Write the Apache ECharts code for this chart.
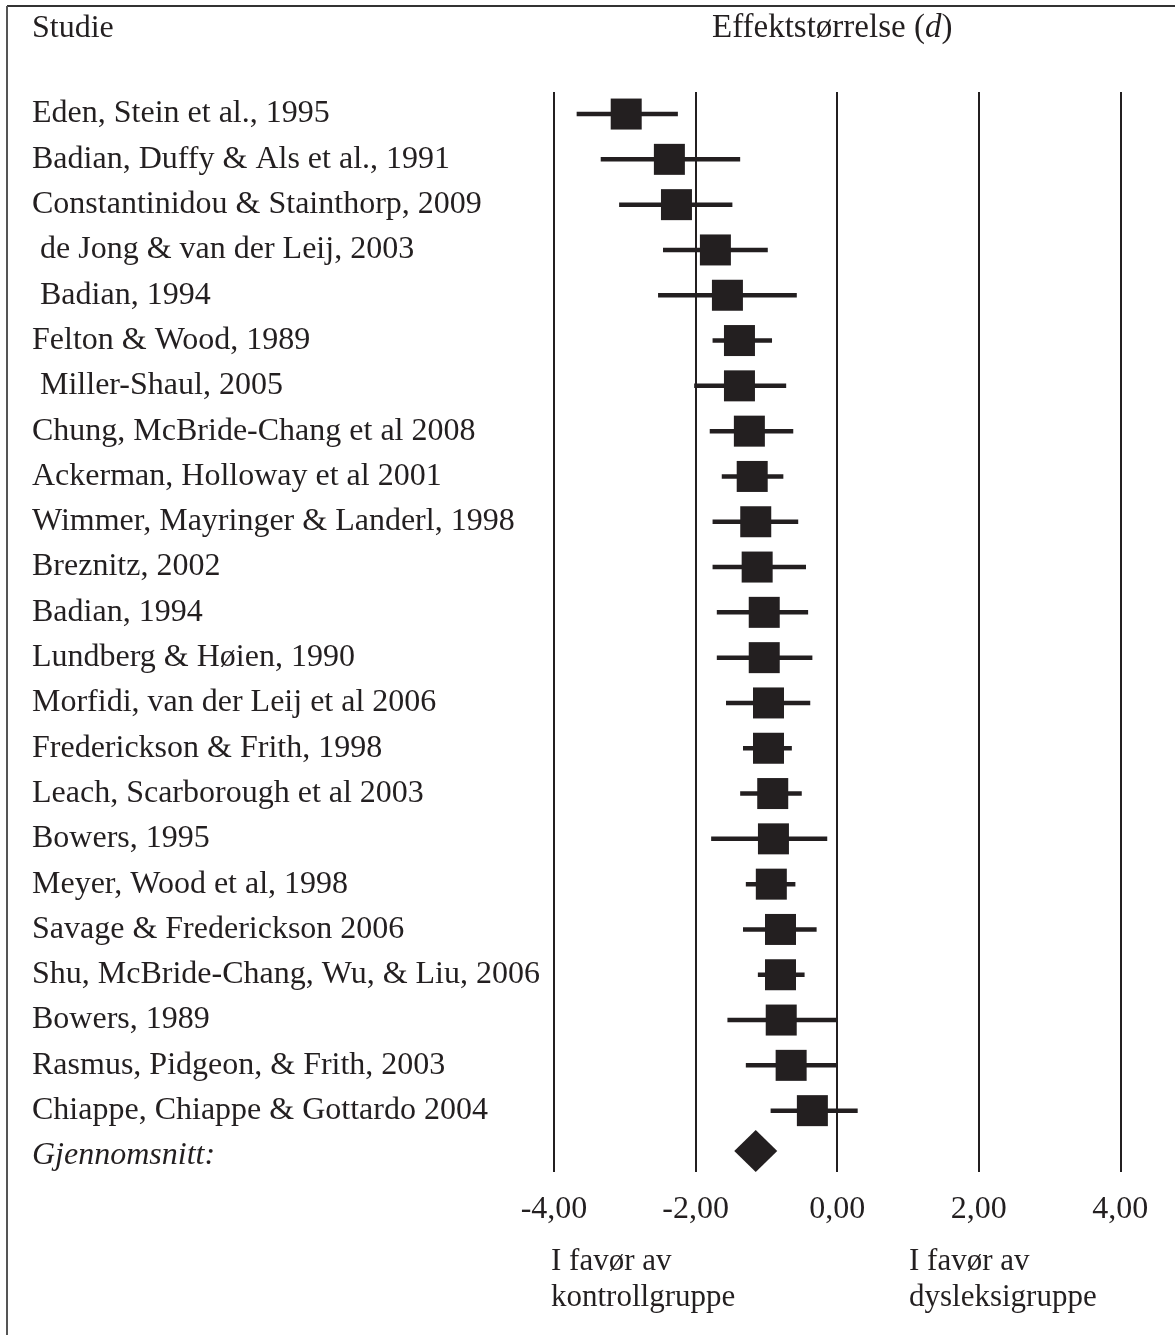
<!DOCTYPE html>
<html>
<head>
<meta charset="utf-8">
<script src="https://cdn.jsdelivr.net/npm/echarts@6/dist/echarts.min.js"></script>
<style>
html, body { margin: 0; padding: 0; background: #fff; }
#container { width: 1175px; height: 1335px; }
</style>
</head>
<body>
<div id="container"></div>
<script>
// studier, i rekkefølge ovenfra og ned
var studies = [
	'Eden, Stein et al., 1995',
	'Badian, Duffy & Als et al., 1991',
	'Constantinidou & Stainthorp, 2009',
	' de Jong & van der Leij, 2003',
	' Badian, 1994',
	'Felton & Wood, 1989',
	' Miller-Shaul, 2005',
	'Chung, McBride-Chang et al 2008',
	'Ackerman, Holloway et al 2001',
	'Wimmer, Mayringer & Landerl, 1998',
	'Breznitz, 2002',
	'Badian, 1994',
	'Lundberg & Høien, 1990',
	'Morfidi, van der Leij et al 2006',
	'Frederickson & Frith, 1998',
	'Leach, Scarborough et al 2003',
	'Bowers, 1995',
	'Meyer, Wood et al, 1998',
	'Savage & Frederickson 2006',
	'Shu, McBride-Chang, Wu, & Liu, 2006',
	'Bowers, 1989',
	'Rasmus, Pidgeon, & Frith, 2003',
	'Chiappe, Chiappe & Gottardo 2004'
];
var meanLabel = 'Gjennomsnitt:';

// effektstørrelse d, nedre og øvre grense
var effect = [-2.98, -2.37, -2.27, -1.72, -1.55, -1.38, -1.38, -1.24, -1.20, -1.15, -1.13, -1.03,
	-1.03, -0.97, -0.97, -0.91, -0.90, -0.93, -0.80, -0.80, -0.79, -0.65, -0.35];
var lower = [-3.68, -3.34, -3.08, -2.46, -2.53, -1.76, -2.02, -1.80, -1.63, -1.76, -1.76, -1.70,
	-1.70, -1.57, -1.33, -1.37, -1.78, -1.29, -1.33, -1.12, -1.55, -1.29, -0.94];
var upper = [-2.25, -1.37, -1.48, -0.98, -0.57, -0.92, -0.72, -0.62, -0.76, -0.55, -0.44, -0.41,
	-0.35, -0.38, -0.64, -0.50, -0.14, -0.59, -0.29, -0.46, -0.01, -0.01, 0.29];
var meanEffect = -1.15;

var xTicks = [-4, -2, 0, 2, 4];

var serif = '"Liberation Serif", "Times New Roman", serif';
var ink = '#231f20';

var dom = document.getElementById('container');
var myChart = echarts.init(dom);

var categories = studies.map(function (s) { return s; });
categories.push({ value: meanLabel, textStyle: { fontStyle: 'italic', align: 'left' } });

var barData = [];
var pointData = [];
for (var i = 0; i < studies.length; i++) {
	barData.push([lower[i], i, upper[i]]);
	pointData.push([effect[i], i]);
}

var option = {
	animation: false,
	backgroundColor: '#fff',
	grid: [
		// rader med studier
		{ left: 554, right: 54.7, top: 91.4, height: 1087.2, containLabel: false, outerBoundsMode: 'none' },
		// kun for de loddrette linjene og tallene
		{ left: 554, right: 54.7, top: 92, bottom: 163, containLabel: false, outerBoundsMode: 'none' }
	],
	xAxis: [
		{
			gridIndex: 0, type: 'value', min: xTicks[0], max: xTicks[xTicks.length - 1],
			show: false
		},
		{
			gridIndex: 1, type: 'value', min: xTicks[0], max: xTicks[xTicks.length - 1], interval: 2,
			axisLine: { show: false },
			axisTick: { show: false },
			splitLine: { show: true, lineStyle: { color: ink, width: 2 } },
			axisLabel: {
				margin: 22,
				fontFamily: serif, fontSize: 32, color: ink,
				formatter: function (v) { return v.toFixed(2).replace('.', ','); }
			}
		}
	],
	yAxis: [
		{
			gridIndex: 0, type: 'category', inverse: true,
			data: categories,
			axisLine: { show: false },
			axisTick: { show: false },
			splitLine: { show: false },
			axisLabel: {
				align: 'left', margin: 522,
				fontFamily: serif, fontSize: 32, color: ink
			}
		},
		{
			gridIndex: 1, type: 'value', min: 0, max: 1, show: false
		}
	],
	series: [
		{
			type: 'custom',
			xAxisIndex: 0, yAxisIndex: 0,
			data: barData,
			encode: { x: [0, 2], y: 1 },
			renderItem: function (params, api) {
				var a = api.coord([api.value(0), api.value(1)]);
				var b = api.coord([api.value(2), api.value(1)]);
				return {
					type: 'line',
					shape: { x1: a[0], y1: a[1], x2: b[0], y2: b[1] },
					style: { stroke: ink, lineWidth: 4.5 }
				};
			},
			z: 3
		},
		{
			type: 'scatter',
			xAxisIndex: 0, yAxisIndex: 0,
			symbol: 'rect', symbolSize: 31,
			itemStyle: { color: ink, opacity: 1 },
			data: pointData,
			z: 4
		},
		{
			type: 'scatter',
			xAxisIndex: 0, yAxisIndex: 0,
			symbol: 'diamond', symbolSize: [43, 42], symbolOffset: [0, -5],
			itemStyle: { color: ink, opacity: 1 },
			data: [[meanEffect, studies.length]],
			z: 4
		}
	],
	graphic: [
		{ type: 'line', shape: { x1: 7, y1: 6, x2: 1175, y2: 6 }, style: { stroke: '#333', lineWidth: 2 } },
		{ type: 'line', shape: { x1: 7, y1: 6, x2: 7, y2: 1335 }, style: { stroke: '#555', lineWidth: 2 } },
		{
			type: 'text', left: 32, top: 13,
			style: { text: 'Studie', font: '32px ' + serif, fill: ink }
		},
		{
			type: 'text', left: 712, top: 12,
			style: {
				text: 'Effektstørrelse ({d|d})',
				font: '33px ' + serif, fill: ink,
				rich: { d: { fontStyle: 'italic', fontFamily: serif, fontSize: 33, fill: ink } }
			}
		},
		{
			type: 'text', left: 551, top: 1244,
			style: { text: 'I favør av\nkontrollgruppe', font: '31px ' + serif, fill: ink, lineHeight: 36 }
		},
		{
			type: 'text', left: 909, top: 1244,
			style: { text: 'I favør av\ndysleksigruppe', font: '31px ' + serif, fill: ink, lineHeight: 36 }
		}
	]
};

if (option && typeof option === 'object') {
	myChart.setOption(option, true);
}
</script>
</body>
</html>
